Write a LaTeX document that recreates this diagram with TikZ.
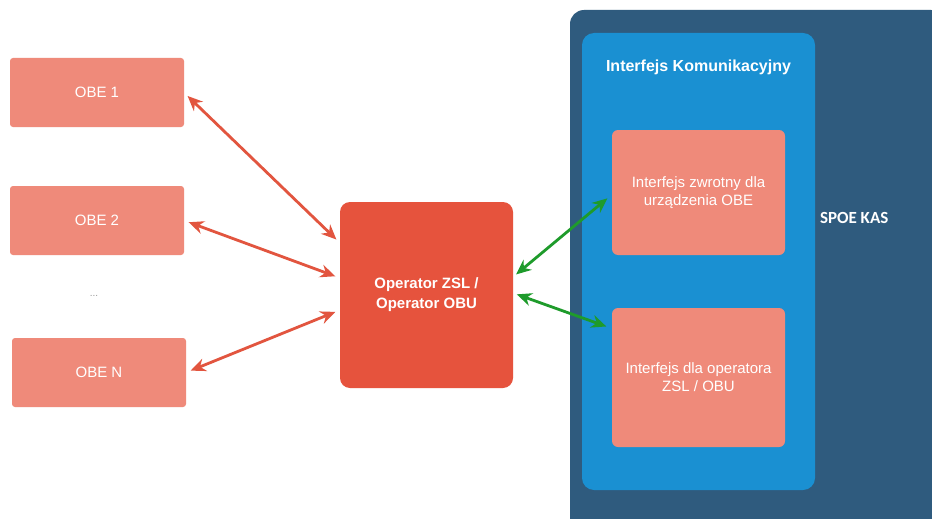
\documentclass[tikz,border=0pt]{standalone}
\usepackage{fontspec}
\setmainfont{Liberation Sans}
\newfontfamily\calibri{Carlito}
\usetikzlibrary{arrows.meta}

\definecolor{salmon}{HTML}{EF8A7A}
\definecolor{opred}{HTML}{E6533D}
\definecolor{kasblue}{HTML}{2F5B7E}
\definecolor{ikblue}{HTML}{1A90D2}
\definecolor{arrred}{HTML}{E2553F}
\definecolor{arrgreen}{HTML}{1E9B2B}

\begin{document}
\begin{tikzpicture}[x=1pt, y=-1pt,
        every node/.style={text=white, outer sep=0pt, inner sep=0pt, align=center},
        obe/.style={fill=salmon, rounded corners=3pt, minimum width=174pt, minimum height=69pt, font=\fontsize{15}{18}\selectfont},
        itf/.style={fill=salmon, rounded corners=6pt, minimum width=173pt, font=\fontsize{15}{18}\selectfont},
        rarr/.style={draw=arrred, line width=2.8pt, {Stealth[length=15pt,width=13pt]}-{Stealth[length=15pt,width=13pt]}, shorten <=5pt, shorten >=5pt},
        garr/.style={draw=arrgreen, line width=2.8pt, {Stealth[length=15pt,width=13pt]}-{Stealth[length=15pt,width=13pt]}, shorten <=4pt, shorten >=6pt}]

        \useasboundingbox (0,0) rectangle (932,519);
        \fill[white] (0,0) rectangle (932,519);

        \node[obe] (1) at (97,92.5) {OBE 1};
        \node[obe] (2) at (97,220.5) {OBE 2};
        \node[text=gray!80, font=\fontsize{10}{12}\selectfont] (dots) at (94,296) {...};
        \node[obe] (n) at (99,372.5) {OBE N};

        \node[fill=opred, rounded corners=10pt, minimum width=173pt, minimum height=186pt, font=\bfseries\fontsize{15}{20}\selectfont] (op) at (426.5,295) {Operator ZSL /\\Operator OBU};

        \node[fill=kasblue, rounded corners=14pt, minimum width=375pt, minimum height=525pt] (kas) at (757.5,272.5) {};
        \node[fill=ikblue, rounded corners=12pt, minimum width=233pt, minimum height=457pt] (ik) at (698.5,261.5) {};
        \node[font=\bfseries\fontsize{16}{18}\selectfont] (ikt) at (698.5,67) {Interfejs Komunikacyjny};
        \node[itf, minimum height=125pt] (i1) at (698.5,192.5) {Interfejs zwrotny dla\\urządzenia OBE};
        \node[itf, minimum height=139pt] (i2) at (698.5,377.5) {Interfejs dla operatora\\ZSL / OBU};
        \node[anchor=west, font=\calibri\bfseries\fontsize{17}{20}\selectfont] (spoe) at (820,218) {SPOE KAS};

        \draw[rarr] (1.east) -- ([yshift=52pt]op.west);
        \draw[rarr] (2.east) -- ([yshift=17pt]op.west);
        \draw[rarr] (n.east) -- ([yshift=-15pt]op.west);

        \draw[garr] ([yshift=18pt]op.east) -- ([yshift=-2pt]i1.west);
        \draw[garr] ([yshift=2pt]op.east) -- ([yshift=49pt]i2.west);

\end{tikzpicture}
\end{document}
